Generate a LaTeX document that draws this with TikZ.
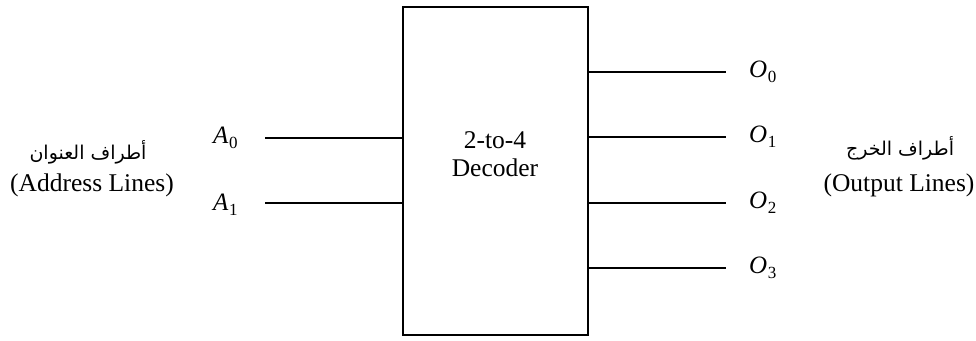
\documentclass[tikz,border=0pt]{standalone}
\usepackage{fontspec}
\setmainfont{Liberation Serif}
\newfontfamily\arabicfont[Script=Arabic]{DejaVu Sans}
\TeXXeTstate=1
\newcommand{\subsc}[1]{\raisebox{-5pt}{\fontsize{17}{18}\selectfont #1}}
\begin{document}
\begin{tikzpicture}[x=1pt,y=-1pt,
  wire/.style={line width=1.4pt},
  lbl/.style={font=\fontsize{25}{30}\selectfont, inner sep=0pt, anchor=west},
  txt/.style={font=\fontsize{25.5}{30}\selectfont, align=center, inner sep=0pt},
  ar/.style={font=\arabicfont\fontsize{19}{24}\selectfont, inner sep=0pt}]
\useasboundingbox (0,0) rectangle (976,340);
\node[draw, line width=1.6pt, minimum width=185pt, minimum height=328pt, inner sep=0pt] (dec) at (495.5,171) {};
\node[txt] (t1) at (495,140) {2-to-4};
\node[txt] (t2) at (495,168) {Decoder};
% inputs
\coordinate (a0e) at (265,138);
\coordinate (a1e) at (265,203);
\draw[wire] (a0e) -- (a0e -| dec.west);
\draw[wire] (a1e) -- (a1e -| dec.west);
\node[lbl] (A0) at (213,138) {\textit{A}\kern0.5pt\subsc{0}};
\node[lbl] (A1) at (213,205) {\textit{A}\kern0.5pt\subsc{1}};
% outputs
\foreach \i/\y in {0/72,1/137,2/203,3/268}{
  \coordinate (o\i e) at (726,\y);
  \draw[wire] (o\i e -| dec.east) -- (o\i e);
  \node[lbl] (O\i) at (749,\y) {\textit{O}\kern0.5pt\subsc{\i}};
}
% side labels
\node[ar] (arL) at (88,152) {\beginR أطراف العنوان\endR};
\node[txt] (enL) at (92,185) {(Address Lines)};
\node[ar] (arR) at (900,148) {\beginR أطراف الخرج\endR};
\node[txt] (enR) at (899,185) {(Output Lines)};
\end{tikzpicture}
\end{document}
